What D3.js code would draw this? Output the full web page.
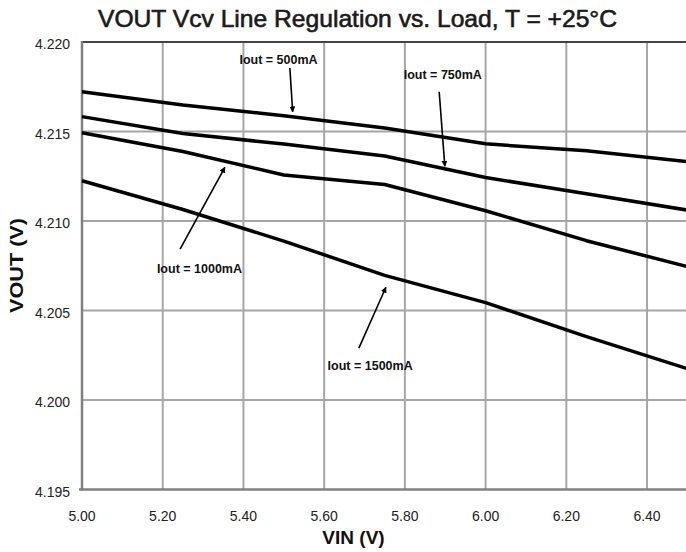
<!DOCTYPE html>
<html>
<head>
<meta charset="utf-8">
<script src="https://cdn.jsdelivr.net/npm/d3@7"></script>
<style>
  body { margin: 0; background: #fff; }
  text { font-family: "Liberation Sans", Arial, sans-serif; }
</style>
</head>
<body>
<script>
// input voltage points (V)
var vin = [5.00, 5.25, 5.50, 5.75, 6.00, 6.25, 6.50];

// VOUT (V) for each load current
var iout500  = [4.21722, 4.21648, 4.21588, 4.21519, 4.21431, 4.21392, 4.21331];
var iout750  = [4.21583, 4.21489, 4.21430, 4.21363, 4.21243, 4.21152, 4.21061];
var iout1000 = [4.21493, 4.21388, 4.21257, 4.21204, 4.21057, 4.20890, 4.20745];
var iout1500 = [4.21225, 4.21064, 4.20888, 4.20696, 4.20544, 4.20354, 4.20175];

var xTicks = [5.0, 5.2, 5.4, 5.6, 5.8, 6.0, 6.2, 6.4];
var yTicks = [4.195, 4.200, 4.205, 4.210, 4.215, 4.220];

// label text, label position, arrow tail, arrow head (data units)
var notes = [
  {text: "Iout = 500mA",  tx: 5.487, ty: 4.21905, x1: 5.515, y1: 4.21855, x2: 5.522, y2: 4.21610},
  {text: "Iout = 750mA",  tx: 5.894, ty: 4.21816, x1: 5.885, y1: 4.21722, x2: 5.899, y2: 4.21306},
  {text: "Iout = 1000mA", tx: 5.291, ty: 4.20732, x1: 5.243, y1: 4.20843, x2: 5.354, y2: 4.21300},
  {text: "Iout = 1500mA", tx: 5.714, ty: 4.20190, x1: 5.686, y1: 4.20290, x2: 5.753, y2: 4.20630}
];

var series = [iout500, iout750, iout1000, iout1500];

var width = 686,
	height = 552;

var x = d3.scaleLinear().domain([5.0, 6.5]).range([82, 687.4]);
var y = d3.scaleLinear().domain([4.195, 4.220]).range([489.5, 42]);

var svg = d3.select("body").append("svg")
		.attr("width", width)
		.attr("height", height);

svg.append("defs").append("marker")
		.attr("id", "arrow")
		.attr("viewBox", "0 0 10 10")
		.attr("refX", 9)
		.attr("refY", 5)
		.attr("markerWidth", 6)
		.attr("markerHeight", 6)
		.attr("markerUnits", "userSpaceOnUse")
		.attr("orient", "auto")
	.append("path")
		.attr("d", "M0,0 L10,5 L0,10 z")
		.attr("fill", "#000");

// grid
svg.selectAll("line.vgrid")
		.data(xTicks.slice(1))
	.enter().append("line")
		.attr("x1", function(d){return x(d);})
		.attr("x2", function(d){return x(d);})
		.attr("y1", y(4.220))
		.attr("y2", y(4.195))
		.attr("stroke", "#a6a6a6")
		.attr("stroke-width", 2);

svg.selectAll("line.hgrid")
		.data(yTicks.slice(1, -1))
	.enter().append("line")
		.attr("x1", x(5.0))
		.attr("x2", x(6.5))
		.attr("y1", function(d){return y(d);})
		.attr("y2", function(d){return y(d);})
		.attr("stroke", "#a6a6a6")
		.attr("stroke-width", 2);

// frame
svg.append("line")
		.attr("x1", x(5.0)).attr("x2", x(6.5))
		.attr("y1", y(4.220)).attr("y2", y(4.220))
		.attr("stroke", "#444").attr("stroke-width", 2);
svg.append("line")
		.attr("x1", x(5.0)).attr("x2", x(5.0))
		.attr("y1", y(4.220) - 1).attr("y2", y(4.195) + 1)
		.attr("stroke", "#808080").attr("stroke-width", 2.5);
svg.append("line")
		.attr("x1", x(5.0) - 3).attr("x2", x(6.5))
		.attr("y1", y(4.195)).attr("y2", y(4.195))
		.attr("stroke", "#808080").attr("stroke-width", 2.5);

// tick labels
svg.selectAll("text.ylab")
		.data(yTicks)
	.enter().append("text")
		.attr("x", 70)
		.attr("y", function(d){return y(d) + 7;})
		.attr("text-anchor", "end")
		.attr("font-size", 14)
		.attr("fill", "#222")
		.text(function(d){return d3.format(".3f")(d);});

svg.selectAll("text.xlab")
		.data(xTicks)
	.enter().append("text")
		.attr("x", function(d){return x(d);})
		.attr("y", 521)
		.attr("text-anchor", "middle")
		.attr("font-size", 14)
		.attr("fill", "#222")
		.text(function(d){return d3.format(".2f")(d);});

// curves
var line = d3.line()
		.x(function(d, i){return x(vin[i]);})
		.y(function(d){return y(d);});

svg.selectAll("path.curve")
		.data(series)
	.enter().append("path")
		.attr("d", line)
		.attr("fill", "none")
		.attr("stroke", "#000")
		.attr("stroke-width", 3.5)
		.attr("stroke-linejoin", "round");

// annotations
svg.selectAll("line.arrow")
		.data(notes)
	.enter().append("line")
		.attr("x1", function(d){return x(d.x1);})
		.attr("y1", function(d){return y(d.y1);})
		.attr("x2", function(d){return x(d.x2);})
		.attr("y2", function(d){return y(d.y2);})
		.attr("stroke", "#000")
		.attr("stroke-width", 1.6)
		.attr("marker-end", "url(#arrow)");

svg.selectAll("text.note")
		.data(notes)
	.enter().append("text")
		.attr("x", function(d){return x(d.tx);})
		.attr("y", function(d){return y(d.ty) + 4.5;})
		.attr("text-anchor", "middle")
		.attr("font-size", 12.5)
		.attr("font-weight", "bold")
		.attr("fill", "#111")
		.text(function(d){return d.text;});

// titles
svg.append("text")
		.attr("x", 357.5)
		.attr("y", 27)
		.attr("text-anchor", "middle")
		.attr("font-size", 24)
		.attr("fill", "#1a1a1a")
		.attr("stroke", "#1a1a1a")
		.attr("stroke-width", 0.6)
		.attr("textLength", 519)
		.attr("lengthAdjust", "spacingAndGlyphs")
		.text("VOUT Vcv Line Regulation vs. Load, T = +25\u00b0C");

svg.append("text")
		.attr("x", 353.5)
		.attr("y", 544)
		.attr("text-anchor", "middle")
		.attr("font-size", 19)
		.attr("font-weight", "bold")
		.attr("fill", "#111")
		.text("VIN (V)");

svg.append("text")
		.attr("transform", "translate(23,265.5) rotate(-90)")
		.attr("text-anchor", "middle")
		.attr("font-size", 18)
		.attr("font-weight", "bold")
		.attr("fill", "#111")
		.attr("textLength", 95)
		.attr("lengthAdjust", "spacingAndGlyphs")
		.text("VOUT (V)");
</script>
</body>
</html>
